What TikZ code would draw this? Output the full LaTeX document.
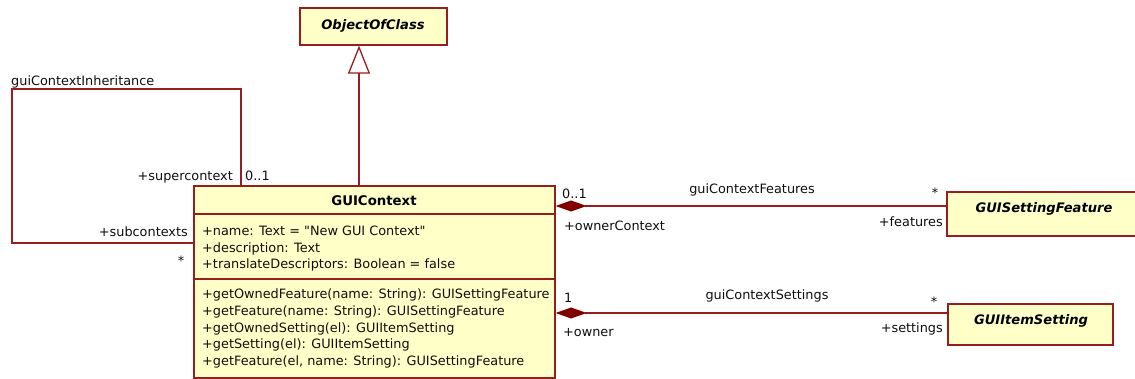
\documentclass[tikz,border=0pt]{standalone}
\usepackage{fontspec}
\setmainfont{DejaVu Sans}[Ligatures=TeXReset]
\usetikzlibrary{arrows.meta}
\definecolor{umlline}{RGB}{150,30,30}
\definecolor{umlfill}{RGB}{255,255,200}
\definecolor{umldiam}{RGB}{128,0,0}
\definecolor{umltext}{RGB}{15,15,15}
\begin{document}
\begin{tikzpicture}[x=1pt,y=-1pt,
  classbox/.style={draw=umlline, fill=umlfill, line width=1.6pt, inner sep=0pt, anchor=north west},
  sep/.style={draw=umlline, line width=1.6pt},
  lbl/.style={inner sep=0pt, font=\fontsize{12.85}{15}\selectfont, text=umltext},
  lblw/.style={lbl, anchor=base west},
  lble/.style={lbl, anchor=base east},
  lblc/.style={lbl, anchor=base},
  title/.style={inner sep=0pt, anchor=base, font=\fontsize{13.3}{15}\selectfont\bfseries, text=black},
  ititle/.style={title, font=\fontsize{13.1}{15}\selectfont\bfseries\itshape},
  assoc/.style={draw=umlline, line width=1.3pt},
  comp/.style={assoc, {Diamond[length=31pt,width=11pt,color=umldiam,fill=umldiam]}-},
  gen/.style={assoc, -{Triangle[open,length=28pt,width=22pt,fill=white,color=umlline]}}
]
\useasboundingbox (0,0) rectangle (1135,379);

% classes
\node[classbox, minimum width=147pt, minimum height=37pt] (obj) at (299,7) {};
\node[ititle] (objt) at (373,29.5) {ObjectOfClass};

\node[classbox, minimum width=361pt, minimum height=192pt] (ctx) at (193,185) {};
\draw[sep] (ctx.west |- 0,214) -- (ctx.east |- 0,214);
\draw[sep] (ctx.west |- 0,279) -- (ctx.east |- 0,279);
\node[title] (ctxt) at (374,205.5) {GUIContext};
\node[lblw] (a1) at (202,235.5) {+name: Text = "New GUI Context"};
\node[lblw] (a2) at (202,252.2) {+description: Text};
\node[lblw] (a3) at (202,268.9) {+translateDescriptors: Boolean = false};
\node[lblw] (o1) at (202,298.8) {+getOwnedFeature(name: String): GUISettingFeature};
\node[lblw] (o2) at (202,315.5) {+getFeature(name: String): GUISettingFeature};
\node[lblw] (o3) at (202,332.2) {+getOwnedSetting(el): GUIItemSetting};
\node[lblw] (o4) at (202,348.9) {+getSetting(el): GUIItemSetting};
\node[lblw] (o5) at (202,365.6) {+getFeature(el, name: String): GUISettingFeature};

\node[classbox, minimum width=196pt, minimum height=44pt] (feat) at (946,191) {};
\node[ititle] (featt) at (1044,212.5) {GUISettingFeature};

\node[classbox, minimum width=165pt, minimum height=41pt] (item) at (947,303) {};
\node[ititle] (itemt) at (1031,324) {GUIItemSetting};

% generalization
\draw[gen] (ctx.north -| 359,0) -- (obj.south -| 359,0);

% self association
\draw[assoc] (ctx.north -| 241,0) |- (12,89) |- (ctx.west |- 0,243);
\node[lblw] (inh) at (11,85.5) {guiContextInheritance};
\node[lble] (supr) at (233,180.5) {+supercontext};
\node[lblw] (supm) at (245,180.5) {0..1};
\node[lble] (subr) at (188,236.5) {+subcontexts};
\node[lblc] (subm) at (181,266) {*};

% compositions
\draw[comp] (ctx.east |- 0,206) -- (feat.west |- 0,206);
\node[lblw] (fm1) at (562,198.5) {0..1};
\node[lblc] (fn) at (752,194) {guiContextFeatures};
\node[lblc] (fm2) at (935,198) {*};
\node[lblw] (fr1) at (564,230.5) {+ownerContext};
\node[lble] (fr2) at (943,226.5) {+features};

\draw[comp] (ctx.east |- 0,313) -- (item.west |- 0,313);
\node[lblw] (sm1) at (564,302.5) {1};
\node[lblc] (sn) at (767,299.5) {guiContextSettings};
\node[lblc] (sm2) at (934,306) {*};
\node[lblw] (sr1) at (563,336.5) {+owner};
\node[lble] (sr2) at (943,332.5) {+settings};
\end{tikzpicture}
\end{document}
